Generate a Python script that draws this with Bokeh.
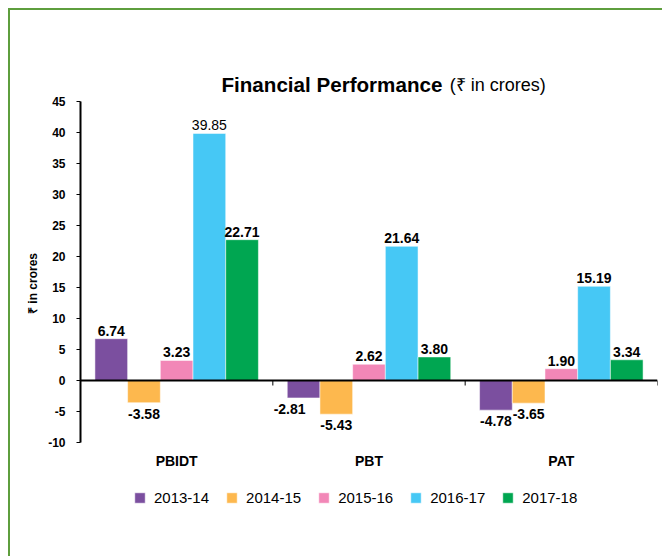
from bokeh.plotting import figure
from bokeh.models import (ColumnDataSource, Range1d, FixedTicker, Span,
                          Legend, LegendItem, Label)
from bokeh.embed import file_html
from bokeh.resources import INLINE
from bokeh.core.properties import value

# ---- data ----
categories = ["PBIDT", "PBT", "PAT"]
years = ["2013-14", "2014-15", "2015-16", "2016-17", "2017-18"]
v_2013_14 = [6.74, -2.81, -4.78]
v_2014_15 = [-3.58, -5.43, -3.65]
v_2015_16 = [3.23, 2.62, 1.90]
v_2016_17 = [39.85, 21.64, 15.19]
v_2017_18 = [22.71, 3.80, 3.34]
series = [v_2013_14, v_2014_15, v_2015_16, v_2016_17, v_2017_18]
y_ticks = [-10, -5, 0, 5, 10, 15, 20, 25, 30, 35, 40, 45]
y_min, y_max = -10, 45

# ---- style ----
colors = ["#7B4F9F", "#FDB84E", "#F287B7", "#46C8F5", "#00A651"]
FONT = "Liberation Sans"
bar_w = 0.17
offsets = [-2 * bar_w, -bar_w, 0.0, bar_w, 2 * bar_w]
label_xshift = {(1, 0): -14}          # (category index, series index) -> px
label_normal = {(0, 3)}               # labels drawn in normal weight
PX_PER_UNIT = 6.2                     # vertical scale of the value axis
FRAME_W, FRAME_H = 577, 546
TOP_PAD_PX = 91                       # space above the 45 line (title area)
TICK_PX = 5                           # boundary tick length on the zero line

n = len(categories)
centers = [i + 0.5 for i in range(n)]
view_top = y_max + TOP_PAD_PX / PX_PER_UNIT
view_bottom = view_top - FRAME_H / PX_PER_UNIT

p = figure(x_range=Range1d(0, n), y_range=Range1d(view_bottom, view_top),
           frame_width=FRAME_W, frame_height=FRAME_H, output_backend="svg",
           toolbar_location=None,
           min_border_left=70, min_border_right=5, min_border_top=0,
           min_border_bottom=0)
p.styles = {"margin-left": "8px", "margin-top": "8px",
            "border-left": "2px solid #5E9E3D", "border-top": "2px solid #5E9E3D"}
p.outline_line_color = None
p.xgrid.visible = False
p.ygrid.visible = False
p.background_fill_color = "white"
p.border_fill_color = "white"

items = []
for j, (yr, vals) in enumerate(zip(years, series)):
    src = ColumnDataSource(dict(
        x=[c + offsets[j] for c in centers],
        val=vals,
        label=["%.2f" % v for v in vals],
        base=["alphabetic" if v >= 0 else "top" for v in vals],
        yoff=[-8 if v >= 0 else 6 for v in vals],
        xoff=[label_xshift.get((i, j), 0) for i in range(n)],
        fstyle=["normal" if (i, j) in label_normal else "bold" for i in range(n)],
    ))
    r = p.vbar(x="x", top="val", bottom=0, width=bar_w, source=src,
               fill_color=colors[j], line_color="white", line_alpha=0.5, line_width=1)
    items.append(LegendItem(label=yr, renderers=[r]))
    p.text(x="x", y="val", text="label", source=src, text_align="center",
           text_baseline="base", x_offset="xoff", y_offset="yoff",
           text_font=value(FONT), text_font_size="14px",
           text_font_style="fstyle", text_color="black")

# zero line with category boundary ticks
p.add_layout(Span(location=0, dimension="width", line_color="black", line_width=2))
bounds = [i + 1 for i in range(n)]
tick_src = ColumnDataSource(dict(x=bounds, y0=[0] * n, y1=[-TICK_PX / PX_PER_UNIT] * n))
p.segment(x0="x", y0="y0", x1="x", y1="y1", source=tick_src,
          line_color="black", line_width=1)

# category labels under the value range
cat_src = ColumnDataSource(dict(x=centers, y=[y_min] * n, name=categories))
p.text(x="x", y="y", text="name", source=cat_src, text_align="center",
       text_baseline="middle", y_offset=18, text_font=value(FONT),
       text_font_size="14px", text_font_style="bold", text_color="black")

# y axis
ya = p.yaxis[0]
ya.bounds = (y_min, y_max)
ya.ticker = FixedTicker(ticks=y_ticks)
ya.major_label_overrides = {t: str(t) for t in y_ticks}
ya.axis_line_width = 2
ya.axis_line_color = "black"
ya.major_tick_out = 4
ya.major_tick_in = 0
ya.major_tick_line_width = 1
ya.minor_tick_line_color = None
ya.major_label_text_font = FONT
ya.major_label_text_font_style = "bold"
ya.major_label_text_font_size = "12px"
ya.major_label_text_color = "black"
ya.major_label_standoff = 11
ya.axis_label = "₹ in crores"
ya.axis_label_text_font = FONT
ya.axis_label_text_font_style = "bold"
ya.axis_label_text_font_size = "12px"
ya.axis_label_text_color = "black"
ya.axis_label_standoff = 5

p.xaxis.visible = False

legend = Legend(items=items, orientation="horizontal", location=(53, 50),
                glyph_width=13, glyph_height=13, label_standoff=8, spacing=16,
                padding=0, margin=0, border_line_color=None,
                background_fill_alpha=0, label_text_color="black",
                label_text_font=FONT, label_text_font_size="15px")
p.add_layout(legend, "center")

# title
p.add_layout(Label(x=0.733, y=y_max + 17 / PX_PER_UNIT, text="Financial Performance",
                   text_font=FONT, text_font_style="bold", text_font_size="20.6px",
                   text_baseline="alphabetic", text_color="black"))
p.add_layout(Label(x=1.92, y=y_max + 17 / PX_PER_UNIT, text="(₹ in crores)",
                   text_font=FONT, text_font_size="18px",
                   text_baseline="alphabetic", text_color="black"))

open("out.html", "w").write(file_html(p, INLINE))
